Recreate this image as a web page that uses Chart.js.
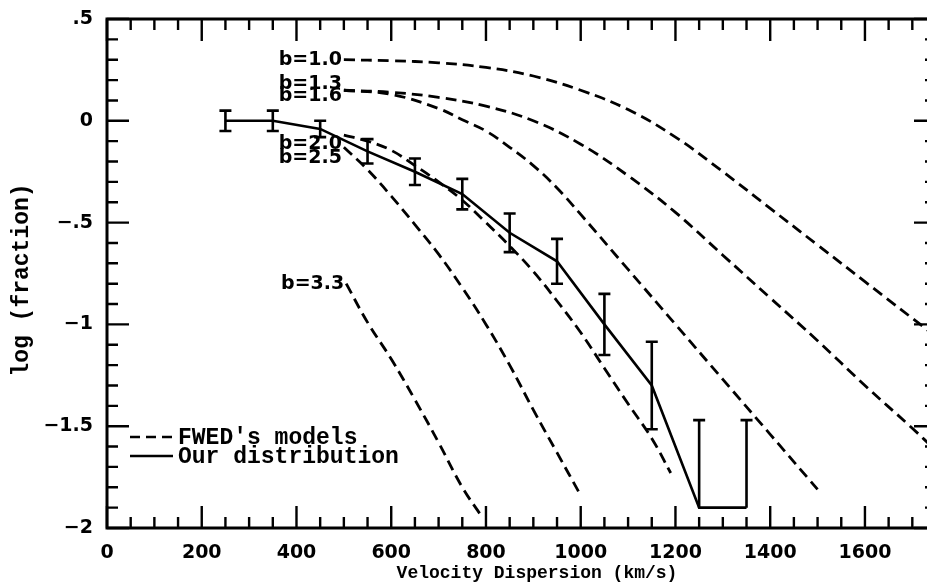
<!DOCTYPE html>
<html><head><meta charset="utf-8">
<script src="https://cdn.jsdelivr.net/npm/chart.js@4/dist/chart.umd.min.js"></script>
<style>html,body{margin:0;padding:0;background:#fff;}#wrap{width:927px;height:584px;position:relative;overflow:hidden;}</style>
</head><body><div id="wrap"><canvas id="c" width="927" height="584"></canvas></div>
<script>
// ---- Observed distribution ("Our distribution") ----
const obsVel      = [250, 350, 450, 550, 650, 750, 850, 950, 1050, 1150, 1250, 1350];
const obsLogFrac  = [0, 0, -0.04, -0.15, -0.25, -0.36, -0.55, -0.69, -1.0, -1.3, -1.9, -1.9];
const obsErrUp    = [0.05, 0.05, 0.04, 0.06, 0.065, 0.075, 0.095, 0.11, 0.15, 0.215, 0.43, 0.43];
const obsErrDown  = [0.05, 0.05, 0.04, 0.06, 0.065, 0.075, 0.095, 0.11, 0.15, 0.215, 0, 0];

// ---- FWED's models ----
const modelNames = ['b=1.0', 'b=1.3', 'b=1.6', 'b=2.0', 'b=2.5', 'b=3.3'];
const velB10 = [500, 600, 700, 800, 900, 1000, 1100, 1200, 1300, 1400, 1500, 1600, 1750];
const logB10 = [0.30, 0.295, 0.285, 0.262, 0.22, 0.15, 0.055, -0.08, -0.25, -0.43, -0.61, -0.79, -1.06];
const velB13 = [500, 600, 700, 800, 900, 1000, 1100, 1200, 1300, 1400, 1500, 1600, 1700, 1750];
const logB13 = [0.15, 0.14, 0.115, 0.072, 0.0, -0.115, -0.27, -0.45, -0.66, -0.87, -1.08, -1.3, -1.51, -1.62];
const velB16 = [500, 600, 700, 750, 800, 850, 900, 950, 1000, 1100, 1200, 1300, 1400, 1500];
const logB16 = [0.15, 0.13, 0.06, 0.005, -0.05, -0.13, -0.22, -0.33, -0.46, -0.73, -1.0, -1.27, -1.54, -1.81];
const velB20 = [500, 550, 600, 650, 700, 750, 800, 850, 900, 950, 1000, 1050, 1100, 1150, 1190];
const logB20 = [-0.07, -0.10, -0.145, -0.22, -0.30, -0.39, -0.50, -0.615, -0.74, -0.885, -1.04, -1.215, -1.39, -1.56, -1.73];
const velB25 = [500, 550, 600, 650, 700, 750, 800, 850, 900, 950, 1000];
const logB25 = [-0.13, -0.24, -0.37, -0.51, -0.655, -0.82, -1.0, -1.2, -1.42, -1.63, -1.84];
const velB33 = [505, 550, 600, 650, 700, 750, 790];
const logB33 = [-0.80, -0.99, -1.17, -1.37, -1.58, -1.80, -1.94];

const modelVels = [velB10, velB13, velB16, velB20, velB25, velB33];
const modelLogs = [logB10, logB13, logB16, logB20, logB25, logB33];

// ---- Axes ----
const xMin = 0, xMax = 1750, xMinorStep = 50, xMajorStep = 200;
const yMin = -2, yMax = 0.5, yMinorStep = 0.1, yMajorStep = 0.5;
const xTitle = 'Velocity Dispersion (km/s)';
const yTitle = 'log (fraction)';
const legendLabels = ["FWED's models", 'Our distribution'];

// ---- layout / style (pixels) ----
const frame = {left: 107, top: 19, right: 936, bottom: 528};
const labelNudge = [0, -6, 6, 9, 11, 0];

const pts = (xs, ys) => xs.map((v, i) => ({x: v, y: ys[i]}));

const datasets = modelVels.map((xs, k) => ({
  label: modelNames[k],
  data: pts(xs, modelLogs[k]),
  borderColor: '#000', borderWidth: 2.8, borderDash: [11, 6],
  pointRadius: 0, fill: false, tension: 0.4
}));
datasets.push({
  label: 'Our distribution',
  data: pts(obsVel, obsLogFrac),
  borderColor: '#000', borderWidth: 2.6, pointRadius: 0, fill: false, tension: 0
});

function fmtY(v) {
  const r = Math.round(v * 10) / 10;
  if (r === 0) return '0';
  let s = String(Math.abs(r));
  if (s.startsWith('0.')) s = s.slice(1);
  return (r < 0 ? '\u2212' : '') + s;
}
const isMajor = (v, step) => Math.abs(v / step - Math.round(v / step)) < 1e-6;

const inkPlugin = {
  id: 'ink',
  afterLayout(chart) {
    const H = chart.height;
    const ca = chart.chartArea;
    Object.assign(ca, frame);
    ca.width = frame.right - frame.left; ca.height = frame.bottom - frame.top;
    const {x, y} = chart.scales;
    x.left = frame.left; x.right = frame.right; x.width = ca.width;
    x.top = frame.bottom; x.bottom = H; x.height = H - frame.bottom;
    y.left = 0; y.right = frame.left; y.width = frame.left;
    y.top = frame.top; y.bottom = frame.bottom; y.height = ca.height;
    x.configure(); y.configure();
  },
  afterDatasetsDraw(chart) {
    const {ctx, chartArea: a, scales: {x, y}} = chart;
    ctx.save();
    ctx.strokeStyle = '#000'; ctx.fillStyle = '#000'; ctx.setLineDash([]);
    // error bars
    ctx.lineWidth = 2.6;
    obsVel.forEach((v, i) => {
      const px = x.getPixelForValue(v);
      const top = y.getPixelForValue(obsLogFrac[i] + obsErrUp[i]);
      const bot = y.getPixelForValue(obsLogFrac[i] - obsErrDown[i]);
      ctx.beginPath();
      ctx.moveTo(px, top); ctx.lineTo(px, bot);
      ctx.moveTo(px - 6, top); ctx.lineTo(px + 6, top);
      if (obsErrDown[i] > 0) { ctx.moveTo(px - 6, bot); ctx.lineTo(px + 6, bot); }
      ctx.stroke();
    });
    // frame
    ctx.lineWidth = 3;
    ctx.strokeRect(a.left, a.top, a.right - a.left, a.bottom - a.top);
    // tick marks (inward, all four sides)
    ctx.lineWidth = 2.4;
    ctx.beginPath();
    x.ticks.forEach(t => {
      const px = x.getPixelForValue(t.value);
      const L = isMajor(t.value, xMajorStep) ? 22 : 11;
      ctx.moveTo(px, a.bottom); ctx.lineTo(px, a.bottom - L);
      ctx.moveTo(px, a.top); ctx.lineTo(px, a.top + L);
    });
    y.ticks.forEach(t => {
      const py = y.getPixelForValue(t.value);
      const L = isMajor(t.value, yMajorStep) ? 22 : 11;
      ctx.moveTo(a.left, py); ctx.lineTo(a.left + L, py);
      ctx.moveTo(a.right, py); ctx.lineTo(a.right - L, py);
    });
    ctx.stroke();
    // model labels
    ctx.font = 'bold 19px "DejaVu Sans"';
    ctx.textAlign = 'right'; ctx.textBaseline = 'middle';
    modelNames.forEach((n, k) => {
      const px = x.getPixelForValue(modelVels[k][0]) - 2;
      const py = y.getPixelForValue(modelLogs[k][0]) + labelNudge[k];
      ctx.fillText(n, px, py);
    });
    // legend
    const lx0 = a.left + 23, lx1 = a.left + 66;
    const ly0 = a.top + 418, ly1 = a.top + 437;
    ctx.lineWidth = 2.4;
    ctx.setLineDash([10, 6]);
    ctx.beginPath(); ctx.moveTo(lx0, ly0); ctx.lineTo(lx1, ly0); ctx.stroke();
    ctx.setLineDash([]);
    ctx.beginPath(); ctx.moveTo(lx0, ly1); ctx.lineTo(lx1, ly1); ctx.stroke();
    ctx.font = 'bold 23px "Liberation Mono"';
    ctx.textAlign = 'left';
    ctx.fillText(legendLabels[0], lx1 + 5, ly0 + 1);
    ctx.fillText(legendLabels[1], lx1 + 5, ly1 + 1);
    // axis titles
    ctx.textAlign = 'center';
    ctx.font = 'bold 18px "Liberation Mono"';
    ctx.fillText(xTitle, 537, 573);
    ctx.save();
    ctx.translate(22, 280);
    ctx.rotate(-Math.PI / 2);
    ctx.font = 'bold 23px "Liberation Mono"';
    ctx.fillText(yTitle, 0, 0);
    ctx.restore();
    ctx.restore();
  }
};

new Chart(document.getElementById('c'), {
  type: 'line',
  data: {datasets},
  options: {
    responsive: false, animation: false, devicePixelRatio: 1,
    plugins: {legend: {display: false}, tooltip: {enabled: false}},
    scales: {
      x: {
        type: 'linear', min: xMin, max: xMax,
        grid: {display: false, drawTicks: false}, border: {display: false},
        ticks: {
          stepSize: xMinorStep, autoSkip: false, maxRotation: 0, padding: 14,
          color: '#000', font: {family: 'DejaVu Sans', weight: 'bold', size: 19},
          callback: v => isMajor(v, xMajorStep) ? String(v) : ''
        },
        title: {display: false}
      },
      y: {
        type: 'linear', min: yMin, max: yMax,
        grid: {display: false, drawTicks: false}, border: {display: false},
        ticks: {
          stepSize: yMinorStep, autoSkip: false, padding: 14,
          color: '#000', font: {family: 'DejaVu Sans', weight: 'bold', size: 19},
          callback: v => isMajor(v, yMajorStep) ? fmtY(v) : ''
        },
        title: {display: false}
      }
    }
  },
  plugins: [inkPlugin]
});
</script>
</body></html>
